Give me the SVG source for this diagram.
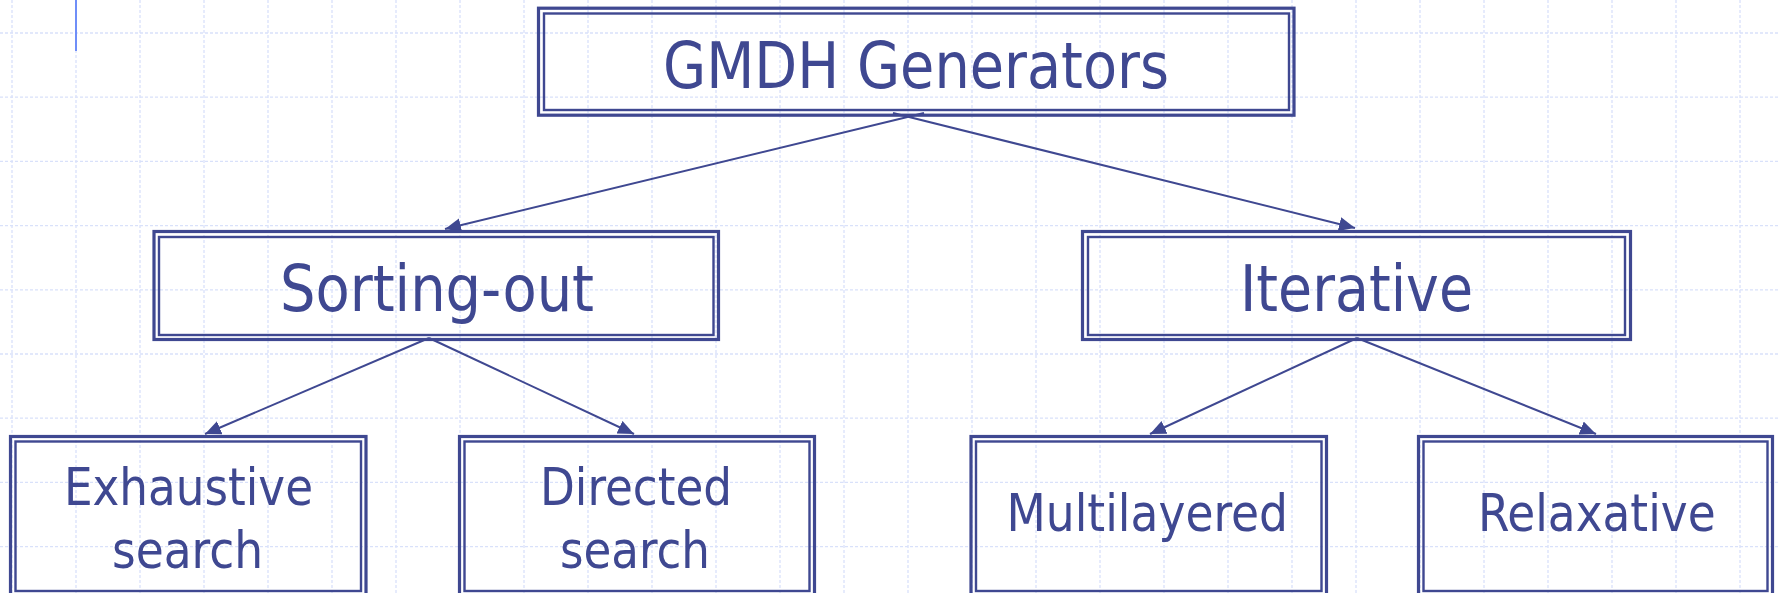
<svg xmlns="http://www.w3.org/2000/svg" width="1778" height="593" viewBox="0 0 1778 593">
<defs>
<style>
.grid line{stroke:#d9e1fa;stroke-width:1.3;stroke-dasharray:3 2}
.outer{fill:none;stroke:#3f4891;stroke-width:3.2}
.inner{fill:none;stroke:#3f4891;stroke-width:2.4}
.lbl{font-family:"DejaVu Sans Condensed","DejaVu Sans",sans-serif;fill:#3f4891}
.big{font-size:64px}
.small{font-size:52px}
.conn line{stroke:#3f4891;stroke-width:2;marker-end:url(#arr)}
</style>
<marker id="arr" markerUnits="userSpaceOnUse" markerWidth="18" markerHeight="16" refX="16" refY="7" orient="auto">
<path d="M0,0 L16,7 L0,14 z" fill="#3f4891"/>
</marker>
</defs>
<rect width="1778" height="593" fill="#ffffff"/>
<g class="grid">
<line x1="12" y1="0" x2="12" y2="593"/><line x1="76" y1="0" x2="76" y2="593"/><line x1="140" y1="0" x2="140" y2="593"/><line x1="204" y1="0" x2="204" y2="593"/><line x1="268" y1="0" x2="268" y2="593"/><line x1="332" y1="0" x2="332" y2="593"/><line x1="396" y1="0" x2="396" y2="593"/><line x1="460" y1="0" x2="460" y2="593"/><line x1="524" y1="0" x2="524" y2="593"/><line x1="588" y1="0" x2="588" y2="593"/><line x1="652" y1="0" x2="652" y2="593"/><line x1="716" y1="0" x2="716" y2="593"/><line x1="780" y1="0" x2="780" y2="593"/><line x1="844" y1="0" x2="844" y2="593"/><line x1="908" y1="0" x2="908" y2="593"/><line x1="972" y1="0" x2="972" y2="593"/><line x1="1036" y1="0" x2="1036" y2="593"/><line x1="1100" y1="0" x2="1100" y2="593"/><line x1="1164" y1="0" x2="1164" y2="593"/><line x1="1228" y1="0" x2="1228" y2="593"/><line x1="1292" y1="0" x2="1292" y2="593"/><line x1="1356" y1="0" x2="1356" y2="593"/><line x1="1420" y1="0" x2="1420" y2="593"/><line x1="1484" y1="0" x2="1484" y2="593"/><line x1="1548" y1="0" x2="1548" y2="593"/><line x1="1612" y1="0" x2="1612" y2="593"/><line x1="1676" y1="0" x2="1676" y2="593"/><line x1="1740" y1="0" x2="1740" y2="593"/>
<line x1="0" y1="33" x2="1778" y2="33"/><line x1="0" y1="97.2" x2="1778" y2="97.2"/><line x1="0" y1="161.4" x2="1778" y2="161.4"/><line x1="0" y1="225.6" x2="1778" y2="225.6"/><line x1="0" y1="289.8" x2="1778" y2="289.8"/><line x1="0" y1="354" x2="1778" y2="354"/><line x1="0" y1="418.2" x2="1778" y2="418.2"/><line x1="0" y1="482.4" x2="1778" y2="482.4"/><line x1="0" y1="546.6" x2="1778" y2="546.6"/>
</g>
<line x1="76" y1="0" x2="76" y2="51" stroke="#6f8ef8" stroke-width="2"/>
<g id="conns" class="conn">
<line x1="924" y1="113" x2="445" y2="229"/>
<line x1="893" y1="113" x2="1355" y2="228"/>
<line x1="429" y1="338" x2="205" y2="434"/>
<line x1="429" y1="338" x2="634" y2="434"/>
<line x1="1357" y1="338" x2="1150" y2="434"/>
<line x1="1357" y1="338" x2="1596" y2="434"/>
</g>
<g id="n-gmdh">
<rect class="outer" x="538.5" y="8.2" width="755.5" height="107"/>
<rect class="inner" x="544" y="13.5" width="745" height="96.5"/>
<text class="lbl big" x="663" y="87.5" textLength="506" lengthAdjust="spacingAndGlyphs">GMDH Generators</text>
</g>
<g id="n-sorting">
<rect class="outer" x="154" y="231.5" width="564.5" height="108"/>
<rect class="inner" x="159" y="237" width="554.5" height="98"/>
<text class="lbl big" x="280" y="310.5" textLength="314" lengthAdjust="spacingAndGlyphs">Sorting-out</text>
</g>
<g id="n-iterative">
<rect class="outer" x="1082.5" y="231.5" width="548" height="108"/>
<rect class="inner" x="1088" y="237" width="537" height="98"/>
<text class="lbl big" x="1240" y="310.5" textLength="233" lengthAdjust="spacingAndGlyphs">Iterative</text>
</g>
<g id="n-exhaustive">
<rect class="outer" x="10.5" y="436.5" width="355.5" height="165"/>
<rect class="inner" x="15.5" y="441.5" width="345.5" height="149.5"/>
<text class="lbl small" x="64" y="505" textLength="249" lengthAdjust="spacingAndGlyphs">Exhaustive</text>
<text class="lbl small" x="112" y="568" textLength="151" lengthAdjust="spacingAndGlyphs">search</text>
</g>
<g id="n-directed">
<rect class="outer" x="459.5" y="436.5" width="355" height="165"/>
<rect class="inner" x="464.5" y="441.5" width="345" height="149.5"/>
<text class="lbl small" x="540" y="505" textLength="192" lengthAdjust="spacingAndGlyphs">Directed</text>
<text class="lbl small" x="560" y="568" textLength="150" lengthAdjust="spacingAndGlyphs">search</text>
</g>
<g id="n-multilayered">
<rect class="outer" x="971" y="436.5" width="355.5" height="165"/>
<rect class="inner" x="976" y="441.5" width="345.5" height="149.5"/>
<text class="lbl small" x="1006.5" y="531" textLength="281.5" lengthAdjust="spacingAndGlyphs">Multilayered</text>
</g>
<g id="n-relaxative">
<rect class="outer" x="1418.5" y="436.5" width="354" height="165"/>
<rect class="inner" x="1423.5" y="441.5" width="344" height="149.5"/>
<text class="lbl small" x="1478" y="531" textLength="237.6" lengthAdjust="spacingAndGlyphs">Relaxative</text>
</g>
</svg>
